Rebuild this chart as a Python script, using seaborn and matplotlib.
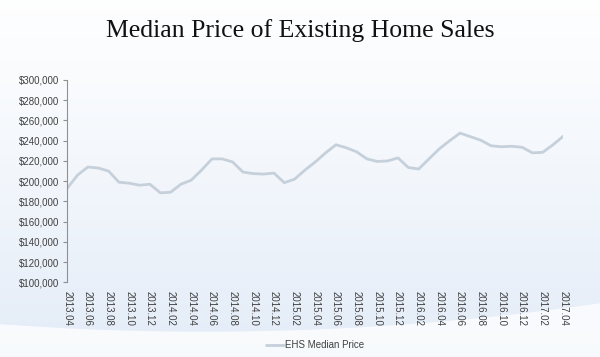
import numpy as np
import pandas as pd
import matplotlib
matplotlib.use("Agg")
import matplotlib.pyplot as plt
import seaborn as sns

# monthly median price, 2013.04 .. 2017.04
months = [f"{y}.{m:02d}" for y in range(2013, 2018) for m in range(1, 13)][3:52]
prices = [
    193000, 206000, 214000, 213000, 210000, 199000, 198000, 196000, 197000,
    188500, 189000, 197000, 201000, 211000, 222000, 222000, 219000, 209000,
    207500, 207000, 208000, 198500, 202000, 211000, 219000, 228000, 236000,
    233000, 229000, 222000, 219500, 220000, 223000, 213500, 212000, 222000,
    232000, 240000, 247500, 244000, 240500, 235000, 234000, 234500, 233500,
    228000, 228500, 236000, 244500,
]
yticks = list(range(100000, 300001, 20000))

df = pd.DataFrame({"month": months, "price": prices})
df["idx"] = range(len(df))

sns.set_theme(style="white")
plt.rcParams["font.family"] = ["Liberation Sans", "DejaVu Sans"]

fig = plt.figure(figsize=(6, 3.57), dpi=100)

# slide-like background: white to pale blue with a light swoosh at the bottom
bg = fig.add_axes([0, 0, 1, 1], zorder=-10)
grad = np.linspace(0, 1, 256)[:, None] ** 1.2
top = np.array([0.995, 0.997, 1.0])
bot = np.array([0.89, 0.925, 0.97])
img = top + (bot - top) * grad[..., None]
bg.imshow(img, aspect="auto", extent=[0, 1, 0, 1], origin="upper")
xs = np.linspace(0, 1, 200)
curve = 0.055 + 0.055 * (xs - 0.45) ** 2 / 0.3 + 0.04 * xs
bg.fill_between(xs, 0, curve, color="white", alpha=0.75, lw=0)
bg.set_xlim(0, 1)
bg.set_ylim(0, 1)
bg.axis("off")

ax = fig.add_axes([0.112, 0.209, 0.827, 0.567])
ax.patch.set_alpha(0)
sns.lineplot(data=df, x="idx", y="price", ax=ax, color="#c6d0db", lw=2,
             label="EHS Median Price")

ax.set_xlim(0, len(df) - 1)
ax.set_ylim(100000, 300000)
ax.set_yticks(yticks)
ax.set_yticklabels([f"${v:,.0f}" for v in yticks], fontsize=7, color="#404040")
ax.set_xticks(df["idx"][::2])
ax.set_xticklabels(df["month"][::2], rotation=-90, fontsize=7, color="#404040")
ax.tick_params(axis="y", length=3, width=0.8, color="#909090", pad=3,
               left=True)
ax.tick_params(axis="x", length=0, pad=6)
for s in ["top", "right", "bottom"]:
    ax.spines[s].set_visible(False)
ax.spines["left"].set_color("#909090")
ax.spines["left"].set_linewidth(0.8)
ax.set_xlabel("")
ax.set_ylabel("")

ax.legend(loc="center", bbox_to_anchor=(0.5, -0.31), frameon=False,
          fontsize=7, handlelength=1.8, handletextpad=0.2, labelcolor="#404040")

fig.text(0.5, 0.915, "Median Price of Existing Home Sales", ha="center",
         va="center", fontsize=18.5, family="Liberation Serif", color="#111111")

fig.savefig("out.png", dpi=100)
